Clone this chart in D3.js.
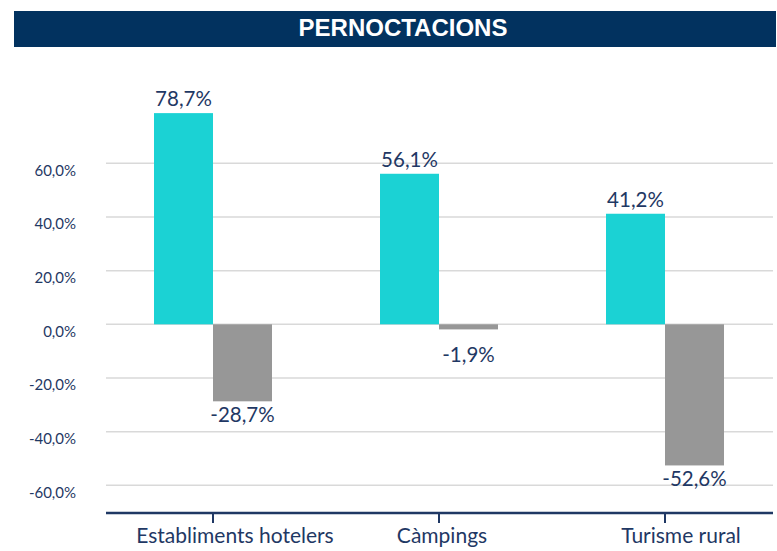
<!DOCTYPE html>
<html>
<head>
<meta charset="utf-8">
<script src="https://cdn.jsdelivr.net/npm/d3@7"></script>
<style>
  body { margin: 0; background: #fff; }
  svg { display: block; }
  .txt { font-family: Lato, "Open Sans", sans-serif; fill: #1f3864; }
</style>
</head>
<body>
<svg id="chart" width="777" height="551"></svg>
<script>
// Data
const categories = ['Establiments hotelers', 'Càmpings', 'Turisme rural'];
const series = ['a', 'b'];
const valuesA = [78.7, 56.1, 41.2];
const valuesB = [-28.7, -1.9, -52.6];
const yTicks = [-60, -40, -20, 0, 20, 40, 60];
const title = 'PERNOCTACIONS';

// Layout
const plot = { left: 106, right: 773, axisY: 513 };
const colors = { a: '#1bd2d4', b: '#979797' };
const navy = '#1f3864';
const catLabelDx = [22, 3, 16];

// Catalan-style number format, plain hyphen minus
const locale = d3.formatLocale({ decimal: ',', thousands: '.', grouping: [3], currency: ['', ' €'], minus: '-' });
const fmt = v => locale.format('.1f')(v) + '%';

const svg = d3.select('#chart');

// Title bar
svg.append('rect')
    .attr('x', 14).attr('y', 11)
    .attr('width', 762).attr('height', 36)
    .attr('fill', '#02325f');
svg.append('text')
    .attr('x', 403).attr('y', 36)
    .attr('text-anchor', 'middle')
    .attr('font-family', '"Liberation Sans", Arial, sans-serif')
    .attr('font-weight', 'bold')
    .attr('font-size', 24)
    .attr('fill', '#fff')
    .text(title);

// Scales
const y = d3.scaleLinear().domain([-60, 60]).range([485.3, 163.3]);
const x0 = d3.scaleBand().domain(categories).range([100, 778]).padding(0);
const barW = 59;
const x1 = d3.scaleBand().domain(series)
    .range([x0.bandwidth() / 2 - barW, x0.bandwidth() / 2 + barW]);

// Gridlines
svg.append('g').selectAll('line')
    .data(yTicks)
    .join('line')
    .attr('x1', plot.left).attr('x2', plot.right)
    .attr('y1', d => y(d)).attr('y2', d => y(d))
    .attr('stroke', '#d9d9d9')
    .attr('stroke-width', 1.5);

// Y labels
svg.append('g').selectAll('text')
    .data(yTicks)
    .join('text')
    .attr('class', 'txt')
    .attr('x', 76)
    .attr('y', d => y(d) + 12.5)
    .attr('text-anchor', 'end')
    .attr('font-size', 15)
    .text(fmt);

// Bars
const rows = categories.map((c, i) => ({ cat: c, a: valuesA[i], b: valuesB[i] }));
const groups = svg.append('g').selectAll('g')
    .data(rows)
    .join('g')
    .attr('transform', d => `translate(${x0(d.cat)},0)`);

const cells = d => series.map(s => ({ s, v: d[s] }));

groups.selectAll('rect')
    .data(cells)
    .join('rect')
    .attr('x', d => x1(d.s))
    .attr('width', x1.bandwidth())
    .attr('y', d => y(Math.max(0, d.v)))
    .attr('height', d => Math.abs(y(d.v) - y(0)))
    .attr('fill', d => colors[d.s]);

groups.selectAll('text')
    .data(cells)
    .join('text')
    .attr('class', 'txt')
    .attr('x', d => x1(d.s) + x1.bandwidth() / 2)
    .attr('y', d => d.v >= 0 ? y(d.v) - 7 : Math.max(y(d.v) + 21, y(0) + 38))
    .attr('text-anchor', 'middle')
    .attr('font-size', 20.5)
    .text(d => fmt(d.v));

// Bottom axis
svg.append('line')
    .attr('x1', plot.left).attr('x2', plot.right)
    .attr('y1', plot.axisY).attr('y2', plot.axisY)
    .attr('stroke', navy)
    .attr('stroke-width', 2.5);

svg.append('g').selectAll('line')
    .data(categories)
    .join('line')
    .attr('x1', d => x0(d) + x0.bandwidth() / 2)
    .attr('x2', d => x0(d) + x0.bandwidth() / 2)
    .attr('y1', plot.axisY).attr('y2', plot.axisY + 10)
    .attr('stroke', navy)
    .attr('stroke-width', 2);

svg.append('g').selectAll('text')
    .data(categories)
    .join('text')
    .attr('class', 'txt')
    .attr('x', (d, i) => x0(d) + x0.bandwidth() / 2 + catLabelDx[i])
    .attr('y', 543)
    .attr('text-anchor', 'middle')
    .attr('font-size', 21)
    .text(d => d);
</script>
</body>
</html>
